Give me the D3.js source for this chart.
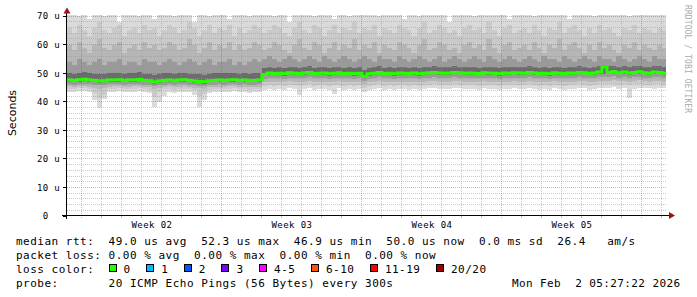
<!DOCTYPE html>
<html lang="en">
<head>
<meta charset="UTF-8">
<script src="https://cdn.jsdelivr.net/npm/d3@7"></script>
<title>Smokeping - 30 days</title>
<style>
  body { margin: 0; background: #fff; }
  svg { display: block; }
  .mono { font-family: "DejaVu Sans Mono", monospace; white-space: pre; }
</style>
</head>
<body>
<svg id="chart" width="697" height="297"></svg>
<script>
// time frame of the graph (30 days, 6h buckets)
var startTime = new Date(Date.UTC(2026, 0, 3, 5, 27, 22));
var endTime = new Date(Date.UTC(2026, 1, 2, 5, 27, 22));
var bucketHours = 6;

// median rtt in us, one value per bucket
var median = [
  47.6,47.5,47.7,47.9,47.6,47.5,47.3,47.4,47.6,47.6,
  47.7,47.5,47.6,47.6,47.8,47.5,47.4,46.9,47.3,47.5,
  47.6,47.4,47.6,47.7,47.5,47.3,47.1,47.0,47.4,47.5,
  47.6,47.5,47.6,47.7,47.5,47.6,47.4,47.5,47.6,49.6,
  50.1,49.9,50.0,49.8,50.2,50.0,49.9,50.1,50.3,49.9,
  50.0,50.1,49.8,50.0,50.2,49.9,50.0,49.8,50.0,48.9,
  49.8,50.0,50.3,49.9,50.0,49.8,50.1,50.0,49.9,50.1,
  49.8,50.0,50.2,50.3,50.1,50.0,50.1,50.3,50.2,50.0,
  50.1,50.0,49.9,50.2,50.1,50.0,49.8,50.1,50.0,50.2,
  50.1,50.0,50.3,50.1,49.9,50.0,49.8,50.2,50.0,49.9,
  50.1,50.0,50.3,50.2,49.9,50.1,50.4,52.3,50.3,50.6,
  50.2,50.4,50.1,50.3,50.5,50.2,50.0,50.4,50.3,50.0
];

// smoke: upper edges (outermost first)
var upper1 = [
  71,71,70,71,69,71,71,70,71,71, 68,71,71,71,70,71,71,69,71,71,
  71,70,71,71,71,68,71,71,70,71, 71,71,69,71,71,71,70,71,71,71,
  71,70,71,71,68,71,71,71,71,70, 71,71,71,69,71,71,70,71,71,71,
  71,71,70,71,71,71,71,69,71,71, 70,71,71,71,71,71,68,71,71,71,
  71,70,71,71,71,71,71,71,69,71, 71,71,71,70,71,71,71,71,71,71,
  69,71,71,71,71,70,71,71,71,71, 71,71,70,71,71,71,71,71,71,71
];
var upper2 = [
  66,64,67,65,63,66,68,65,64,66, 67,63,65,66,64,67,65,66,63,65,
  67,66,64,65,68,66,63,65,67,64, 66,65,67,63,66,64,65,67,66,64,
  65,67,66,64,63,66,68,65,64,67, 66,63,65,67,64,66,65,68,64,66,
  65,67,63,66,65,64,67,66,65,63, 66,68,64,65,67,66,64,65,63,66,
  67,65,66,64,68,65,63,66,67,64, 65,66,64,67,65,63,66,65,68,64,
  66,67,65,63,66,64,67,65,66,64, 63,66,65,67,64,66,65,64,66,65
];
var upper3 = [
  60,58,61,59,57,60,62,59,58,60, 61,57,59,60,58,61,59,60,58,59,
  61,60,58,59,62,60,57,59,61,58, 60,59,61,58,60,58,59,61,60,58,
  59,61,60,58,57,60,62,59,58,61, 60,57,59,61,58,60,59,62,58,60,
  59,61,57,60,59,58,61,60,59,57, 60,62,58,59,61,60,58,59,57,60,
  61,59,60,58,62,59,57,60,61,58, 59,60,58,61,59,57,60,59,62,58,
  60,61,59,57,60,58,61,59,60,58, 57,60,59,61,58,60,59,58,60,59
];
var upper4 = [
  54,53,55,54,53,54,55,53,54,54, 55,53,54,54,53,55,54,54,53,54,
  55,54,53,54,55,54,53,54,55,53, 54,54,55,53,54,53,54,55,54,55,
  56,55,54,55,56,55,54,55,56,55, 54,56,55,54,55,56,55,54,55,56,
  55,54,56,55,55,54,56,55,54,55, 56,55,54,55,56,54,55,56,55,54,
  55,56,55,54,56,55,54,55,56,55, 54,55,56,55,54,56,55,55,54,56,
  55,54,55,56,55,54,56,55,55,54, 56,55,54,55,56,55,54,56,55,55
];
var upper5 = [
  50.0,49.8,50.2,50.4,50.0,49.9,49.7,49.9,50.1,50.0,
  50.2,49.9,50.0,50.1,50.3,49.9,49.8,49.5,49.8,50.0,
  50.1,49.9,50.0,50.2,49.9,49.8,49.6,49.5,49.9,50.0,
  50.1,50.0,50.1,50.2,49.9,50.1,49.9,50.0,50.1,51.8,
  52.2,52.0,52.1,51.9,52.3,52.1,52.0,52.2,52.4,52.0,
  52.1,52.2,51.9,52.1,52.3,52.0,52.1,51.9,52.1,51.0,
  51.9,52.1,52.4,52.0,52.1,51.9,52.2,52.1,52.0,52.2,
  51.9,52.1,52.3,52.4,52.2,52.1,52.2,52.4,52.3,52.1,
  52.2,52.1,52.0,52.3,52.2,52.1,51.9,52.2,52.1,52.3,
  52.2,52.1,52.4,52.2,52.0,52.1,51.9,52.3,52.1,52.0,
  52.2,52.1,52.4,52.3,52.0,52.2,52.5,53.0,52.4,52.7,
  52.3,52.5,52.2,52.4,52.6,52.3,52.1,52.5,52.4,52.1
];

// smoke: lower edges (outermost first)
var lower1 = [
  43.6,43.3,43.8,43.9,43.5,40.5,38.0,41.0,43.4,43.6,
  43.7,43.3,43.5,43.6,43.8,43.3,43.2,38.3,40.0,42.0,
  43.6,43.2,43.5,43.6,43.3,42.5,38.2,40.5,43.2,43.4,
  43.5,43.3,43.6,43.7,43.3,43.5,43.2,43.3,43.4,44.0,
  44.6,44.3,44.5,44.2,44.7,44.5,42.4,44.6,44.8,44.3,
  44.5,44.6,44.2,42.8,44.7,44.3,44.5,44.2,44.5,43.5,
  44.2,44.5,44.8,44.3,44.5,44.2,44.6,44.5,44.3,44.6,
  44.2,44.5,44.7,44.8,44.6,44.5,44.6,44.8,44.7,44.5,
  44.6,44.5,44.3,44.7,44.6,44.5,44.2,44.6,44.5,44.7,
  44.6,44.5,44.8,44.6,44.3,44.5,44.2,44.7,44.5,44.3,
  44.6,44.5,44.8,44.7,44.3,44.6,44.9,44.8,44.8,45.1,
  44.6,44.9,41.3,44.6,44.8,45.0,44.7,44.5,44.9,44.8
];
var lower2 = [
  44.6,44.4,44.7,44.8,44.5,43.0,41.5,42.5,44.5,44.6,
  44.7,44.4,44.5,44.6,44.7,44.4,44.3,41.8,43.5,44.4,
  44.6,44.3,44.5,44.6,44.4,44.0,42.0,42.8,44.3,44.4,
  44.5,44.4,44.6,44.7,44.4,44.5,44.3,44.4,44.5,45.4,
  45.9,45.7,45.8,45.6,46.0,45.8,45.7,45.9,46.1,45.7,
  45.8,45.9,45.6,45.8,46.0,45.7,45.8,45.6,45.8,45.0,
  45.6,45.8,46.1,45.7,45.8,45.6,45.9,45.8,45.7,45.9,
  45.6,45.8,46.0,46.1,45.9,45.8,45.9,46.1,46.0,45.8,
  45.9,45.8,45.7,46.0,45.9,45.8,45.6,45.9,45.8,46.0,
  45.9,45.8,46.1,45.9,45.7,45.8,45.6,46.0,45.8,45.7,
  45.9,45.8,46.1,46.0,45.7,45.9,46.2,46.1,46.1,46.4,
  46.0,46.2,45.9,46.1,46.3,46.0,45.8,46.2,46.1,45.8
];
var lower3 = [
  45.4,45.2,45.5,45.6,45.3,45.0,44.6,44.8,45.3,45.4,
  45.5,45.2,45.3,45.4,45.5,45.2,45.1,44.6,44.9,45.2,
  45.4,45.1,45.3,45.4,45.2,45.0,44.7,44.6,45.1,45.2,
  45.3,45.2,45.4,45.5,45.2,45.3,45.1,45.2,45.3,46.8,
  47.1,46.9,47.0,46.8,47.2,47.0,46.9,47.1,47.3,46.9,
  47.0,47.1,46.8,47.0,47.2,46.9,47.0,46.8,47.0,46.2,
  46.8,47.0,47.3,46.9,47.0,46.8,47.1,47.0,46.9,47.1,
  46.8,47.0,47.2,47.3,47.1,47.0,47.1,47.3,47.2,47.0,
  47.1,47.0,46.9,47.2,47.1,47.0,46.8,47.1,47.0,47.2,
  47.1,47.0,47.3,47.1,46.9,47.0,46.8,47.2,47.0,46.9,
  47.1,47.0,47.3,47.2,46.9,47.1,47.4,47.3,47.3,47.6,
  47.2,47.4,47.1,47.3,47.5,47.2,47.0,47.4,47.3,47.0
];
var lower4 = [
  46.2,46.0,46.3,46.4,46.1,46.0,45.8,45.9,46.1,46.2,
  46.3,46.0,46.1,46.2,46.3,46.0,45.9,45.6,45.8,46.0,
  46.2,45.9,46.1,46.2,46.0,45.8,45.6,45.5,45.9,46.0,
  46.1,46.0,46.2,46.3,46.0,46.1,45.9,46.0,46.1,48.0,
  48.4,48.2,48.3,48.1,48.5,48.3,48.2,48.4,48.6,48.2,
  48.3,48.4,48.1,48.3,48.5,48.2,48.3,48.1,48.3,47.4,
  48.1,48.3,48.6,48.2,48.3,48.1,48.4,48.3,48.2,48.4,
  48.1,48.3,48.5,48.6,48.4,48.3,48.4,48.6,48.5,48.3,
  48.4,48.3,48.2,48.5,48.4,48.3,48.1,48.4,48.3,48.5,
  48.4,48.3,48.6,48.4,48.2,48.3,48.1,48.5,48.3,48.2,
  48.4,48.3,48.6,48.5,48.2,48.4,48.7,48.6,48.6,48.9,
  48.5,48.7,48.4,48.6,48.8,48.5,48.3,48.7,48.6,48.3
];
var lower5 = [
  47.0,46.9,47.1,47.3,47.0,46.9,46.7,46.8,47.0,47.0,
  47.1,46.9,47.0,47.0,47.2,46.9,46.8,46.4,46.7,46.9,
  47.0,46.8,47.0,47.1,46.9,46.7,46.5,46.4,46.8,46.9,
  47.0,46.9,47.0,47.1,46.9,47.0,46.8,46.9,47.0,49.0,
  49.5,49.3,49.4,49.2,49.6,49.4,49.3,49.5,49.7,49.3,
  49.4,49.5,49.2,49.4,49.6,49.3,49.4,49.2,49.4,48.3,
  49.2,49.4,49.7,49.3,49.4,49.2,49.5,49.4,49.3,49.5,
  49.2,49.4,49.6,49.7,49.5,49.4,49.5,49.7,49.6,49.4,
  49.5,49.4,49.3,49.6,49.5,49.4,49.2,49.5,49.4,49.6,
  49.5,49.4,49.7,49.5,49.3,49.4,49.2,49.6,49.4,49.3,
  49.5,49.4,49.7,49.6,49.3,49.5,49.8,49.7,49.7,50.0,
  49.6,49.8,49.5,49.7,49.9,49.6,49.4,49.8,49.7,49.4
];

// axis ticks and labels
var yTicks = [0, 10, 20, 30, 40, 50, 60, 70];
var yTickLabels = ["0  ", "10 u", "20 u", "30 u", "40 u", "50 u", "60 u", "70 u"];
var weekStarts = [Date.UTC(2026,0,4), Date.UTC(2026,0,11), Date.UTC(2026,0,18), Date.UTC(2026,0,25), Date.UTC(2026,1,1)];
var weekLabels = ["Week 02", "Week 03", "Week 04", "Week 05"];

// legend
var legendLines = [
  "median rtt:  49.0 us avg  52.3 us max  46.9 us min  50.0 us now  0.0 ms sd  26.4   am/s",
  "packet loss: 0.00 % avg  0.00 % max  0.00 % min  0.00 % now",
  "loss color:",
  "probe:       20 ICMP Echo Pings (56 Bytes) every 300s"
];
var lossLabels = ["0", "1", "2", "3", "4-5", "6-10", "11-19", "20/20"];
var lossColors = ["#26ff00", "#00b8ff", "#0059ff", "#7e00ff", "#ff00ff", "#ff5500", "#ff0000", "#a10000"];
var stampText = "Mon Feb  2 05:27:22 2026";

var svg = d3.select("#chart");

var x = d3.scaleUtc().domain([startTime, endTime]).range([66.5, 666.5]);
var y = d3.scaleLinear().domain([0, 70.4]).range([216, 15]);

var plotLeft = 67, plotRight = 666, plotTop = 15, plotBottom = 216;

svg.append("defs").append("clipPath").attr("id", "plotClip")
    .append("rect")
    .attr("x", plotLeft).attr("y", plotTop)
    .attr("width", plotRight - plotLeft).attr("height", plotBottom - plotTop);

// bucket start times
var buckets = median.map(function(d, i) {
    return new Date(startTime.getTime() + i * bucketHours * 3600 * 1000);
});
function bucketEnd(i) {
    return new Date(startTime.getTime() + (i + 1) * bucketHours * 3600 * 1000);
}

// smoke, outer pair first, darker towards the median
var smokePairs = [
    { lo: lower1, hi: upper1, color: "#dadada" },
    { lo: lower2, hi: upper2, color: "#cacaca" },
    { lo: lower3, hi: upper3, color: "#b6b6b6" },
    { lo: lower4, hi: upper4, color: "#9a9a9a" },
    { lo: lower5, hi: upper5, color: "#6c6c6c" }
];

var gSmoke = svg.append("g").attr("clip-path", "url(#plotClip)").attr("shape-rendering", "crispEdges");
smokePairs.forEach(function(p) {
    gSmoke.append("g").selectAll("rect")
        .data(buckets)
        .enter().append("rect")
        .attr("x", function(d) { return Math.round(x(d)); })
        .attr("width", function(d, i) { return Math.round(x(bucketEnd(i))) - Math.round(x(d)); })
        .attr("y", function(d, i) { return Math.round(y(p.hi[i])); })
        .attr("height", function(d, i) { return Math.round(y(p.lo[i])) - Math.round(y(p.hi[i])); })
        .attr("fill", p.color);
});

// grid (drawn over the smoke, like rrdtool)
var gGrid = svg.append("g").attr("shape-rendering", "crispEdges");
var minorColor = "rgba(150,150,150,0.5)";
var majorColor = "rgba(215,40,40,0.4)";

var minorY = d3.range(2, 71, 2).filter(function(v) { return v % 10 !== 0; });
gGrid.selectAll(".hminor").data(minorY).enter().append("line")
    .attr("x1", plotLeft).attr("x2", plotRight)
    .attr("y1", function(d) { return Math.floor(y(d)) + 0.5; })
    .attr("y2", function(d) { return Math.floor(y(d)) + 0.5; })
    .attr("stroke", minorColor).attr("stroke-dasharray", "1,1");

var days = d3.utcDay.range(d3.utcDay.ceil(startTime), endTime).filter(function(d) {
    return weekStarts.indexOf(d.getTime()) < 0;
});
gGrid.selectAll(".vminor").data(days).enter().append("line")
    .attr("x1", function(d) { return Math.floor(x(d)) + 0.5; })
    .attr("x2", function(d) { return Math.floor(x(d)) + 0.5; })
    .attr("y1", plotTop).attr("y2", plotBottom)
    .attr("stroke", minorColor).attr("stroke-dasharray", "1,1");

gGrid.selectAll(".hmajor").data(yTicks.slice(1)).enter().append("line")
    .attr("x1", 63).attr("x2", plotRight)
    .attr("y1", function(d) { return Math.floor(y(d)) + 0.5; })
    .attr("y2", function(d) { return Math.floor(y(d)) + 0.5; })
    .attr("stroke", majorColor).attr("stroke-dasharray", "1,1");

gGrid.selectAll(".vmajor").data(weekStarts).enter().append("line")
    .attr("x1", function(d) { return Math.floor(x(new Date(d))) + 0.5; })
    .attr("x2", function(d) { return Math.floor(x(new Date(d))) + 0.5; })
    .attr("y1", plotTop).attr("y2", plotBottom + 3)
    .attr("stroke", majorColor).attr("stroke-dasharray", "1,1");

// median line
var medianPoints = buckets.map(function(d, i) { return [d, median[i]]; });
medianPoints.push([endTime, median[median.length - 1]]);
svg.append("path")
    .datum(medianPoints)
    .attr("clip-path", "url(#plotClip)")
    .attr("fill", "none")
    .attr("stroke", lossColors[0])
    .attr("stroke-width", 3)
    .attr("d", d3.line()
        .curve(d3.curveStepAfter)
        .x(function(d) { return Math.round(x(d[0])); })
        .y(function(d) { return y(d[1]); }));

// axes
var arrowColor = "#a01010";
svg.append("line")
    .attr("x1", 66.5).attr("x2", 66.5).attr("y1", 11).attr("y2", 219)
    .attr("stroke", "#000").attr("shape-rendering", "crispEdges");
svg.append("line")
    .attr("x1", 62).attr("x2", 670).attr("y1", 215.5).attr("y2", 215.5)
    .attr("stroke", "#000").attr("shape-rendering", "crispEdges");
svg.append("path").attr("d", "M63.5,13.5 L70.5,13.5 L67,7.5 Z").attr("fill", arrowColor);
svg.append("path").attr("d", "M669,212 L669,219 L675,215.5 Z").attr("fill", arrowColor);

// y tick marks and labels
svg.selectAll(".ytick").data(yTicks).enter().append("line")
    .attr("x1", 63).attr("x2", 66)
    .attr("y1", function(d) { return Math.floor(y(d)) + 0.5; })
    .attr("y2", function(d) { return Math.floor(y(d)) + 0.5; })
    .attr("stroke", "#000").attr("shape-rendering", "crispEdges");

svg.selectAll(".ylabel").data(yTicks).enter().append("text")
    .attr("class", "mono")
    .attr("x", 60)
    .attr("y", function(d) { return y(d) + 3.3; })
    .attr("text-anchor", "end")
    .attr("font-size", 9)
    .attr("letter-spacing", 0.35)
    .attr("fill", "#000")
    .text(function(d, i) { return yTickLabels[i]; });

// x day ticks under the axis
svg.selectAll(".xtick").data(days).enter().append("line")
    .attr("x1", function(d) { return Math.floor(x(d)) + 0.5; })
    .attr("x2", function(d) { return Math.floor(x(d)) + 0.5; })
    .attr("y1", 216).attr("y2", 218)
    .attr("stroke", "#bbb").attr("shape-rendering", "crispEdges");

// week labels, centred in each week
svg.selectAll(".xlabel").data(weekLabels).enter().append("text")
    .attr("class", "mono")
    .attr("x", function(d, i) { return (x(new Date(weekStarts[i])) + x(new Date(weekStarts[i + 1]))) / 2; })
    .attr("y", 227.5)
    .attr("text-anchor", "middle")
    .attr("font-size", 9)
    .attr("letter-spacing", 0.45)
    .attr("fill", "#000")
    .text(function(d) { return d; });

// vertical titles
svg.append("text")
    .attr("transform", "translate(15.5,113) rotate(-90)")
    .attr("text-anchor", "middle")
    .attr("font-family", "DejaVu Sans, sans-serif")
    .attr("font-size", 11)
    .attr("fill", "#000")
    .text("Seconds");

svg.append("text")
    .attr("class", "mono")
    .attr("transform", "translate(685,5) rotate(90)")
    .attr("font-size", 8)
    .attr("letter-spacing", 0.1)
    .attr("fill", "#aaa")
    .text("RRDTOOL / TOBI OETIKER");

// legend
var charW = 7.12;
var legendX = 16;
var lineY = [245, 259, 273, 287];
svg.selectAll(".legend").data(legendLines).enter().append("text")
    .attr("class", "mono")
    .attr("x", legendX)
    .attr("y", function(d, i) { return lineY[i]; })
    .attr("font-size", 11)
    .attr("letter-spacing", 0.5)
    .attr("fill", "#000")
    .text(function(d) { return d; });

var bx = legendX + 13 * charW;
lossLabels.forEach(function(lbl, i) {
    svg.append("rect")
        .attr("x", Math.round(bx) + 0.5).attr("y", 264.5)
        .attr("width", 7).attr("height", 7)
        .attr("fill", lossColors[i])
        .attr("stroke", "#000");
    svg.append("text")
        .attr("class", "mono")
        .attr("x", bx + 15)
        .attr("y", lineY[2])
        .attr("font-size", 11)
        .attr("letter-spacing", 0.5)
        .attr("fill", "#000")
        .text(lbl);
    bx = bx + 15 + lbl.length * charW + 15.5;
});

svg.append("text")
    .attr("class", "mono")
    .attr("x", 680.5)
    .attr("y", lineY[3])
    .attr("text-anchor", "end")
    .attr("font-size", 11)
    .attr("letter-spacing", 0.4)
    .attr("fill", "#000")
    .text(stampText);
</script>
</body>
</html>
